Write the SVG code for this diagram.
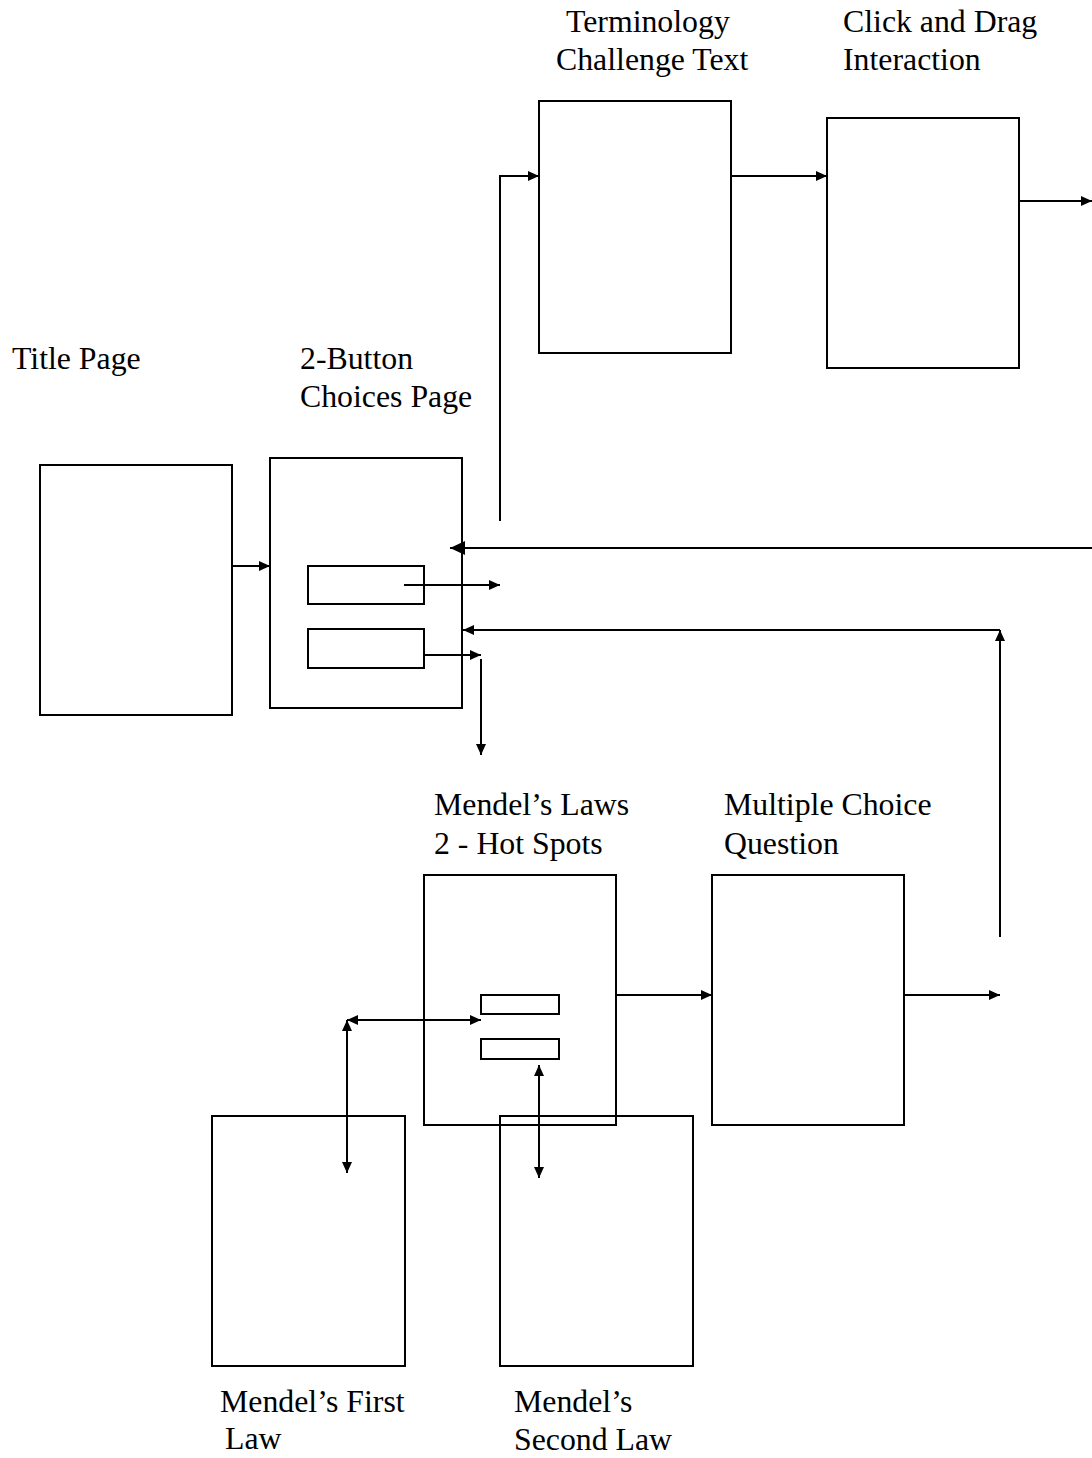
<svg xmlns="http://www.w3.org/2000/svg" width="1092" height="1458" viewBox="0 0 1092 1458">
<style>
.box{fill:none;stroke:#000;stroke-width:2}
.btn{fill:none;stroke:#000;stroke-width:2}
.ln{fill:none;stroke:#000;stroke-width:2}
.lbl{font-family:"Liberation Serif","Times New Roman",serif;font-size:31.8px;fill:#000}
</style>
<defs>
<marker id="ah" markerUnits="userSpaceOnUse" markerWidth="12" markerHeight="10" refX="11" refY="5" orient="auto">
<path d="M0,0 L11,5 L0,10 Z" fill="#000"/>
</marker>
<marker id="as" markerUnits="userSpaceOnUse" markerWidth="12" markerHeight="10" refX="11" refY="5" orient="auto-start-reverse">
<path d="M0,0 L11,5 L0,10 Z" fill="#000"/>
</marker>
<marker id="big" markerUnits="userSpaceOnUse" markerWidth="16" markerHeight="14" refX="15" refY="7" orient="auto">
<path d="M0,0 L15,7 L0,14 Z" fill="#000"/>
</marker>
</defs>
<rect width="1092" height="1458" fill="#fff"/>

<g id="title-page">
<rect class="box" x="40" y="465" width="192" height="250"/>
<text class="lbl" x="12" y="369">Title Page</text>
</g>

<g id="choices-page">
<rect class="box" x="270" y="458" width="192" height="250"/>
<rect class="btn" x="308" y="566" width="116" height="38"/>
<rect class="btn" x="308" y="629" width="116" height="39"/>
<text class="lbl" x="300" y="369">2-Button</text>
<text class="lbl" x="300" y="407">Choices Page</text>
</g>

<g id="terminology">
<rect class="box" x="539" y="101" width="192" height="252"/>
<text class="lbl" x="566" y="32">Terminology</text>
<text class="lbl" x="556" y="70">Challenge Text</text>
</g>

<g id="click-drag">
<rect class="box" x="827" y="118" width="192" height="250"/>
<text class="lbl" x="843" y="32">Click and Drag</text>
<text class="lbl" x="843" y="70">Interaction</text>
</g>

<g id="mendels-laws">
<rect class="box" x="424" y="875" width="192" height="250"/>
<rect class="btn" x="481" y="995" width="78" height="19"/>
<rect class="btn" x="481" y="1039" width="78" height="20"/>
<text class="lbl" x="434" y="815">Mendel’s Laws</text>
<text class="lbl" x="434" y="854">2 - Hot Spots</text>
</g>

<g id="multiple-choice">
<rect class="box" x="712" y="875" width="192" height="250"/>
<text class="lbl" x="724" y="815">Multiple Choice</text>
<text class="lbl" x="724" y="854">Question</text>
</g>

<g id="first-law">
<rect class="box" x="212" y="1116" width="193" height="250"/>
<text class="lbl" x="220" y="1412">Mendel’s First</text>
<text class="lbl" x="225" y="1449">Law</text>
</g>

<g id="second-law">
<rect class="box" x="500" y="1116" width="193" height="250"/>
<text class="lbl" x="514" y="1412">Mendel’s</text>
<text class="lbl" x="514" y="1450">Second Law</text>
</g>

<g id="connectors">
<line class="ln" x1="232" y1="566" x2="270" y2="566" marker-end="url(#ah)"/>
<line class="ln" x1="404" y1="585" x2="500" y2="585" marker-end="url(#ah)"/>
<line class="ln" x1="424" y1="655" x2="481" y2="655" marker-end="url(#ah)"/>
<line class="ln" x1="481" y1="659" x2="481" y2="755" marker-end="url(#ah)"/>
<line class="ln" x1="1092" y1="548" x2="450" y2="548" marker-end="url(#big)"/>
<polyline class="ln" points="1000,937 1000,630" marker-end="url(#ah)"/>
<line class="ln" x1="1000" y1="630" x2="463" y2="630" marker-end="url(#ah)"/>
<polyline class="ln" points="500,521 500,176 539,176" marker-end="url(#ah)"/>
<line class="ln" x1="731" y1="176" x2="827" y2="176" marker-end="url(#ah)"/>
<line class="ln" x1="1019" y1="201" x2="1092" y2="201" marker-end="url(#ah)"/>
<line class="ln" x1="616" y1="995" x2="712" y2="995" marker-end="url(#ah)"/>
<line class="ln" x1="904" y1="995" x2="1000" y2="995" marker-end="url(#ah)"/>
<line class="ln" x1="347" y1="1020" x2="481" y2="1020" marker-start="url(#as)" marker-end="url(#as)"/>
<line class="ln" x1="347" y1="1020" x2="347" y2="1173" marker-start="url(#as)" marker-end="url(#as)"/>
<line class="ln" x1="539" y1="1065" x2="539" y2="1178" marker-start="url(#as)" marker-end="url(#as)"/>
</g>
</svg>
